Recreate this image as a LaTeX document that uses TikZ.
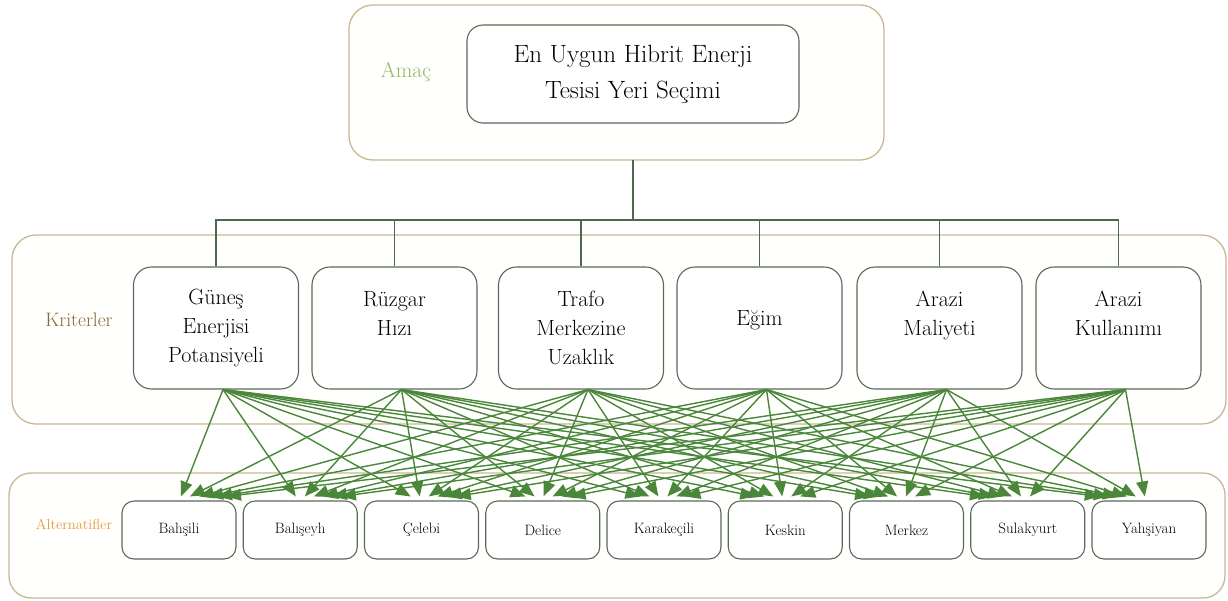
\documentclass[tikz,border=0pt]{standalone}
\usetikzlibrary{arrows.meta}
\definecolor{tanline}{HTML}{C8B893}
\definecolor{boxline}{HTML}{5B695B}
\definecolor{conn}{HTML}{4F674F}
\definecolor{arrowgreen}{HTML}{4A873A}
\definecolor{amacgreen}{HTML}{8DBB5E}
\definecolor{kritbrown}{HTML}{86683A}
\definecolor{altorange}{HTML}{E49A3A}
\definecolor{panelfill}{HTML}{FFFFFD}
\begin{document}
\begin{tikzpicture}[x=1pt,y=-1pt,
  panel/.style={draw=tanline, line width=1.3pt, fill=panelfill, rounded corners=24pt, inner sep=0pt, outer sep=0pt},
  goalbox/.style={draw=boxline, line width=1.1pt, fill=white, rounded corners=16pt, minimum width=332pt, minimum height=98pt, inner sep=0pt, align=center, font=\fontsize{25}{36}\selectfont},
  critbox/.style={draw=boxline, line width=1.1pt, fill=white, rounded corners=18pt, minimum width=165pt, minimum height=122pt, inner sep=0pt, align=center, font=\fontsize{22}{29}\selectfont},
  altbox/.style={draw=boxline, line width=1.1pt, fill=white, rounded corners=12pt, minimum width=114pt, minimum height=58pt, inner sep=0pt, font=\fontsize{15}{18}\selectfont},
  tierlabel/.style={inner sep=0pt},
  hubline/.style={draw=conn, line width=1.2pt},
  linkarrow/.style={draw=arrowgreen, line width=1.4pt, -{Triangle[length=15pt,width=12pt]}, fill=arrowgreen}
]
\useasboundingbox (0,0) rectangle (1228,600);

% panels
\node[panel, minimum width=535pt, minimum height=155pt] (goalpanel) at (616.5,82.5) {};
\node[panel, minimum width=1214pt, minimum height=189pt] (critpanel) at (619,329.5) {};
\node[panel, minimum width=1216pt, minimum height=125pt, rounded corners=22pt] (altpanel) at (617,535.5) {};

% tier labels
\node[tierlabel, text=amacgreen, font=\fontsize{21.5}{26}\selectfont] (lamac) at (406,72) {Amaç};
\node[tierlabel, text=kritbrown, font=\fontsize{19.5}{24}\selectfont] (lkrit) at (79,320) {Kriterler};
\node[tierlabel, text=altorange, font=\fontsize{14.5}{18}\selectfont] (lalt) at (74,524) {Alternatifler};

% goal
\node[goalbox] (goal) at (633,74) {En Uygun Hibrit Enerji\\Tesisi Yeri Seçimi};

% criteria
\node[critbox] (c1) at (216,328) {Güneş\\Enerjisi\\Potansiyeli};
\node[critbox] (c2) at (394.5,328) {Rüzgar\\Hızı\\\mbox{}};
\node[critbox] (c3) at (581,328) {Trafo\\Merkezine\\Uzaklık};
\node[critbox] (c4) at (759.5,328) {Eğim\\[-8pt]\mbox{}};
\node[critbox] (c5) at (939.5,328) {Arazi\\Maliyeti\\\mbox{}};
\node[critbox] (c6) at (1118.5,328) {Arazi\\Kullanımı\\\mbox{}};

% alternatives
\node[altbox] (a1) at (179.0,530) {Bahşili};
\node[altbox] (a2) at (300.25,530) {Balışeyh};
\node[altbox] (a3) at (421.5,530) {Çelebi};
\node[altbox] (a4) at (542.75,530) {Delice};
\node[altbox] (a5) at (664.0,530) {Karakeçili};
\node[altbox] (a6) at (785.25,530) {Keskin};
\node[altbox] (a7) at (906.5,530) {Merkez};
\node[altbox] (a8) at (1027.75,530) {Sulakyurt};
\node[altbox] (a9) at (1149.0,530) {Yahşiyan};

% goal to criteria
\coordinate (hub) at (633,220);
\draw[hubline] (goal.south |- goalpanel.south) -- (hub);
\foreach \i in {1,...,6}{
  \draw[hubline] (hub) -| (c\i.north);
}

% criteria to alternatives
\foreach \i in {1,...,6}{
  \foreach \j in {1,...,9}{
    \pgfmathsetmacro{\dx}{2-6.4*(\j-1)+9*(\i-1)}
    \draw[linkarrow] ([xshift=7pt]c\i.south) -- ([xshift=\dx pt, yshift=4pt]a\j.north);
  }
}
\end{tikzpicture}
\end{document}
